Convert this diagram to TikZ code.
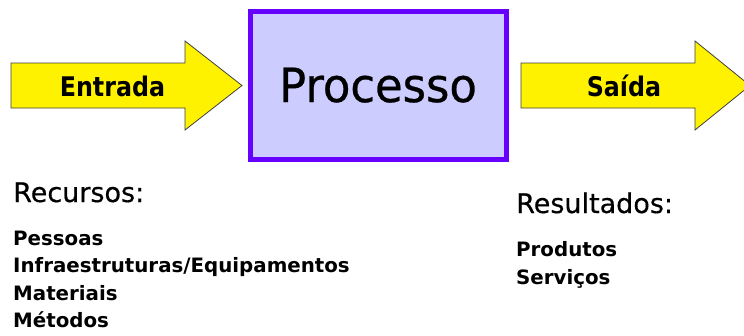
\documentclass[tikz,border=0pt]{standalone}
\usepackage{fontspec}
\setmainfont{DejaVu Sans}
\newfontfamily\lblfont[FakeStretch=0.88]{DejaVu Sans}
\newfontfamily\procfont[FakeStretch=0.955,FakeBold=0.6]{DejaVu Sans}
\newfontfamily\headfont[FakeBold=0.5]{DejaVu Sans}
\begin{document}
\begin{tikzpicture}[x=1pt,y=-1pt,
  arrowshape/.style={fill=yellow,draw=black!75,line width=0.8pt,line join=miter},
  lbl/.style={font=\lblfont\bfseries\fontsize{27}{30}\selectfont,anchor=base,inner sep=0pt},
  head/.style={font=\headfont\fontsize{27}{30}\selectfont,anchor=base west,inner sep=0pt},
  item/.style={font=\bfseries\fontsize{19.8}{22}\selectfont,anchor=base west,inner sep=0pt}]
\definecolor{procfill}{HTML}{CCCCFF}
\definecolor{procdraw}{HTML}{6600FF}
\useasboundingbox (0,0) rectangle (744,335);
\clip (0,0) rectangle (744,335);
% input arrow
\draw[arrowshape] (11,63) -- (185,63) -- (185,41) -- (242,85.5) -- (185,130) -- (185,108) -- (11,108) -- cycle;
% output arrow
\draw[arrowshape] (521,63) -- (695,63) -- (695,41) -- (750,85.5) -- (695,130) -- (695,108) -- (521,108) -- cycle;
% process box
\node[draw=procdraw,fill=procfill,line width=5pt,minimum width=256pt,minimum height=148pt,inner sep=0pt] (proc) at (378.5,85.5) {};
\node[font=\procfont\fontsize{47}{50}\selectfont,anchor=base,inner sep=0pt] (proctext) at (378,102) {Processo};
\node[lbl] (entrada) at (112.5,96) {Entrada};
\node[lbl] (saida) at (624,96) {Saída};
% resources
\node[head] (recursos) at (13,202) {Recursos:};
\node[item] (pessoas) at (13,245) {Pessoas};
\node[item] (infra) at (13,272) {Infraestruturas/Equipamentos};
\node[item] (materiais) at (13,300) {Materiais};
\node[item] (metodos) at (13,327) {Métodos};
% results
\node[head] (resultados) at (516,213) {Resultados:};
\node[item] (produtos) at (516,256) {Produtos};
\node[item] (servicos) at (516,284) {Serviços};
\end{tikzpicture}
\end{document}
